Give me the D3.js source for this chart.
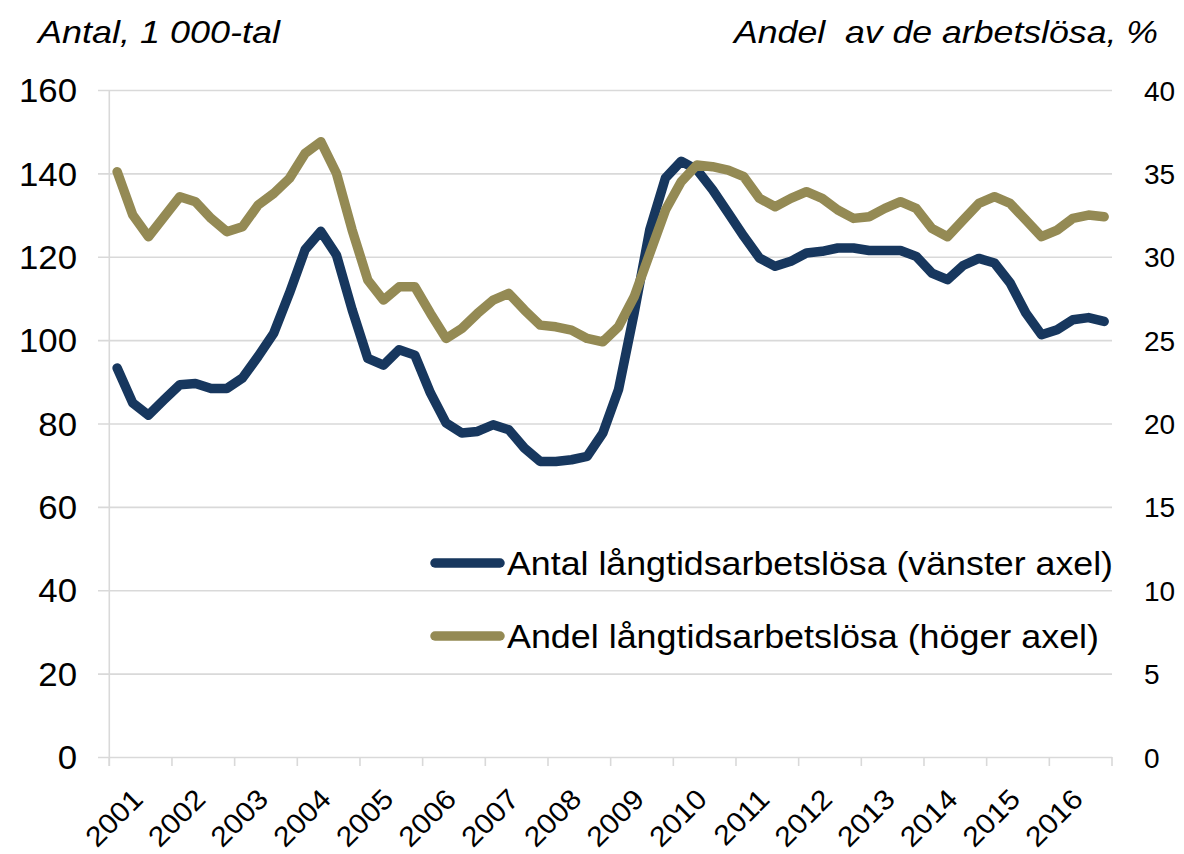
<!DOCTYPE html>
<html>
<head>
<meta charset="utf-8">
<script src="https://cdn.jsdelivr.net/npm/d3@7"></script>
<style>
    body { margin: 0; background: #fff; }
    svg { display: block; }
    text { font-family: "Liberation Sans", Arial, sans-serif; fill: #000; }
</style>
</head>
<body>
<svg id="chart" width="1184" height="854"></svg>
<script>
'use strict';

// Categories: quarterly, 2001 K1 .. 2016 K4
var years        = [2001, 2002, 2003, 2004, 2005, 2006, 2007, 2008,
                    2009, 2010, 2011, 2012, 2013, 2014, 2015, 2016];
var quarterNames = ['K1', 'K2', 'K3', 'K4'];

// Antal långtidsarbetslösa, 1 000-tal (left axis)
var antal = [
     93.3,  84.9,  82.0,  85.7,   89.3,  89.6,  88.4,  88.4,
     90.9,  96.1, 101.7, 111.3,  121.7, 126.1, 120.4, 107.3,
     95.6,  94.0,  97.7,  96.4,   87.3,  80.1,  77.7,  78.1,
     79.7,  78.5,  74.1,  70.9,   70.9,  71.3,  72.1,  77.7,
     88.1, 106.5, 126.5, 138.9,  142.9, 140.9, 136.1, 130.5,
    124.9, 119.7, 117.7, 118.9,  120.9, 121.3, 122.1, 122.1,
    121.5, 121.5, 121.5, 120.1,  116.1, 114.5, 117.9, 119.6,
    118.5, 113.7, 106.5, 101.3,  102.5, 104.9, 105.4, 104.5
];

// Andel långtidsarbetslösa av de arbetslösa, % (right axis)
var andel = [
    35.1, 32.5, 31.2, 32.4,  33.6, 33.3, 32.3, 31.5,
    31.8, 33.1, 33.8, 34.7,  36.2, 36.9, 35.0, 31.6,
    28.6, 27.4, 28.2, 28.2,  26.6, 25.1, 25.7, 26.6,
    27.4, 27.8, 26.8, 25.9,  25.8, 25.6, 25.1, 24.9,
    25.8, 27.6, 30.2, 32.8,  34.5, 35.5, 35.4, 35.2,
    34.8, 33.5, 33.0, 33.5,  33.9, 33.5, 32.8, 32.3,
    32.4, 32.9, 33.3, 32.9,  31.7, 31.2, 32.2, 33.2,
    33.6, 33.2, 32.2, 31.2,  31.6, 32.3, 32.5, 32.4
];

var leftTicks  = [0, 20, 40, 60, 80, 100, 120, 140, 160];
var rightTicks = [0, 5, 10, 15, 20, 25, 30, 35, 40];

var seriesNames = ['Antal långtidsarbetslösa (vänster axel)',
                   'Andel långtidsarbetslösa (höger axel)'];
var leftTitle   = 'Antal, 1 000-tal';
var rightTitle  = 'Andel  av de arbetslösa, %';

var colors = { antal: '#17375e', andel: '#948a54', grid: '#d9d9d9' };

/*==============================
=            Layout            =
==============================*/
var plot = { left: 109.3, right: 1112, top: 90, bottom: 757 };

var quarters = years.flatMap(function (y) {
    return quarterNames.map(function (q) { return y + q; });
});

var svg = d3.select('#chart');

var x = d3.scaleBand()
    .domain(quarters)
    .range([plot.left, plot.right])
    .padding(0);

var xYear = d3.scaleBand()
    .domain(years)
    .range([plot.left, plot.right])
    .padding(0);

var yLeft = d3.scaleLinear().domain([0, 160]).range([plot.bottom, plot.top]);
var yRight = d3.scaleLinear().domain([0, 40]).range([plot.bottom, plot.top]);

// stretch text horizontally to the width measured on the original
function stretch(sel, k) {
    sel.each(function () {
        var w = this.getComputedTextLength();
        d3.select(this)
            .attr('textLength', w * k)
            .attr('lengthAdjust', 'spacingAndGlyphs');
    });
}

/*==============================
=            Axes              =
==============================*/
var gridStart = 98;

// left axis, tick lines are carried through as gridlines
var leftAxis = svg.append('g')
    .attr('class', 'axis-left')
    .attr('transform', 'translate(' + gridStart + ',0)')
    .call(d3.axisLeft(yLeft)
        .tickValues(leftTicks)
        .tickSizeInner(-(plot.right - gridStart))
        .tickSizeOuter(0)
        .tickPadding(21)
        .tickFormat(d3.format('d')));

leftAxis.select('.domain').remove();
leftAxis.selectAll('.tick line')
    .attr('stroke', colors.grid)
    .attr('stroke-width', 1.6);
leftAxis.selectAll('.tick text')
    .attr('font-family', '"Liberation Sans", Arial, sans-serif')
    .style('font-size', '32.5px')
    .attr('dy', '0.36em')
    .call(stretch, 1.07);

// right axis, labels only
var rightAxis = svg.append('g')
    .attr('class', 'axis-right')
    .attr('transform', 'translate(' + plot.right + ',0)')
    .call(d3.axisRight(yRight)
        .tickValues(rightTicks)
        .tickSize(0)
        .tickPadding(32)
        .tickFormat(d3.format('d')));

rightAxis.select('.domain').remove();
rightAxis.selectAll('.tick text')
    .attr('font-family', '"Open Sans", "Noto Sans", sans-serif')
    .style('font-size', '28px')
    .attr('dy', '0.36em');

// vertical axis line
svg.append('line')
    .attr('x1', plot.left).attr('x2', plot.left)
    .attr('y1', plot.top).attr('y2', plot.bottom + 9)
    .attr('stroke', colors.grid)
    .attr('stroke-width', 1.6);

// x axis tick marks between years
var yearEdges = years.map(function (y) { return x(y + 'K1'); }).concat([plot.right]);

svg.append('g')
    .attr('class', 'x-ticks')
    .selectAll('line')
    .data(yearEdges)
    .join('line')
        .attr('x1', function (d) { return d; })
        .attr('x2', function (d) { return d; })
        .attr('y1', plot.bottom)
        .attr('y2', plot.bottom + 9)
        .attr('stroke', colors.grid)
        .attr('stroke-width', 1.6);

// rotated year labels
svg.append('g')
    .attr('class', 'x-labels')
    .selectAll('text')
    .data(years)
    .join('text')
        .attr('transform', function (d) {
            return 'translate(' + (xYear(d) + xYear.bandwidth() / 2 - 3) + ',794) rotate(-45)';
        })
        .attr('text-anchor', 'end')
        .attr('dy', '0.35em')
        .style('font-size', '28px')
        .text(function (d) { return d; })
        .call(stretch, 1.08);

/*==============================
=            Titles            =
==============================*/
svg.append('text')
    .attr('x', 38)
    .attr('y', 43)
    .style('font-size', '31.5px')
    .style('font-style', 'italic')
    .attr('textLength', 242)
    .attr('lengthAdjust', 'spacingAndGlyphs')
    .text(leftTitle);

svg.append('text')
    .attr('x', 734)
    .attr('y', 43)
    .style('font-size', '31.5px')
    .style('font-style', 'italic')
    .style('white-space', 'pre')
    .attr('textLength', 424)
    .attr('lengthAdjust', 'spacingAndGlyphs')
    .text(rightTitle);

/*==============================
=            Lines             =
==============================*/
function centre(i) { return x(quarters[i]) + x.bandwidth() / 2; }

var lineLeft = d3.line()
    .x(function (d, i) { return centre(i); })
    .y(function (d) { return yLeft(d); });

var lineRight = d3.line()
    .x(function (d, i) { return centre(i); })
    .y(function (d) { return yRight(d); });

svg.append('path')
    .datum(antal)
    .attr('class', 'line-antal')
    .attr('fill', 'none')
    .attr('stroke', colors.antal)
    .attr('stroke-width', 9.5)
    .attr('stroke-linejoin', 'round')
    .attr('stroke-linecap', 'round')
    .attr('d', lineLeft);

svg.append('path')
    .datum(andel)
    .attr('class', 'line-andel')
    .attr('fill', 'none')
    .attr('stroke', colors.andel)
    .attr('stroke-width', 9.5)
    .attr('stroke-linejoin', 'round')
    .attr('stroke-linecap', 'round')
    .attr('d', lineRight);

/*==============================
=            Legend            =
==============================*/
var legendItems = [
    { name: seriesNames[0], color: colors.antal, y: 563 },
    { name: seriesNames[1], color: colors.andel, y: 636 }
];

var legend = svg.append('g').attr('class', 'legend');

legend.selectAll('line')
    .data(legendItems)
    .join('line')
        .attr('x1', 435).attr('x2', 500)
        .attr('y1', function (d) { return d.y; })
        .attr('y2', function (d) { return d.y; })
        .attr('stroke', function (d) { return d.color; })
        .attr('stroke-width', 9.5)
        .attr('stroke-linecap', 'round');

legend.selectAll('text')
    .data(legendItems)
    .join('text')
        .attr('x', 507)
        .attr('y', function (d) { return d.y + 12; })
        .style('font-size', '34px')
        .text(function (d) { return d.name; })
        .each(function (d, i) {
            // both entries end close to the right edge of the plot
            d3.select(this)
                .attr('textLength', i === 0 ? 606 : 592)
                .attr('lengthAdjust', 'spacingAndGlyphs');
        });
</script>
</body>
</html>
